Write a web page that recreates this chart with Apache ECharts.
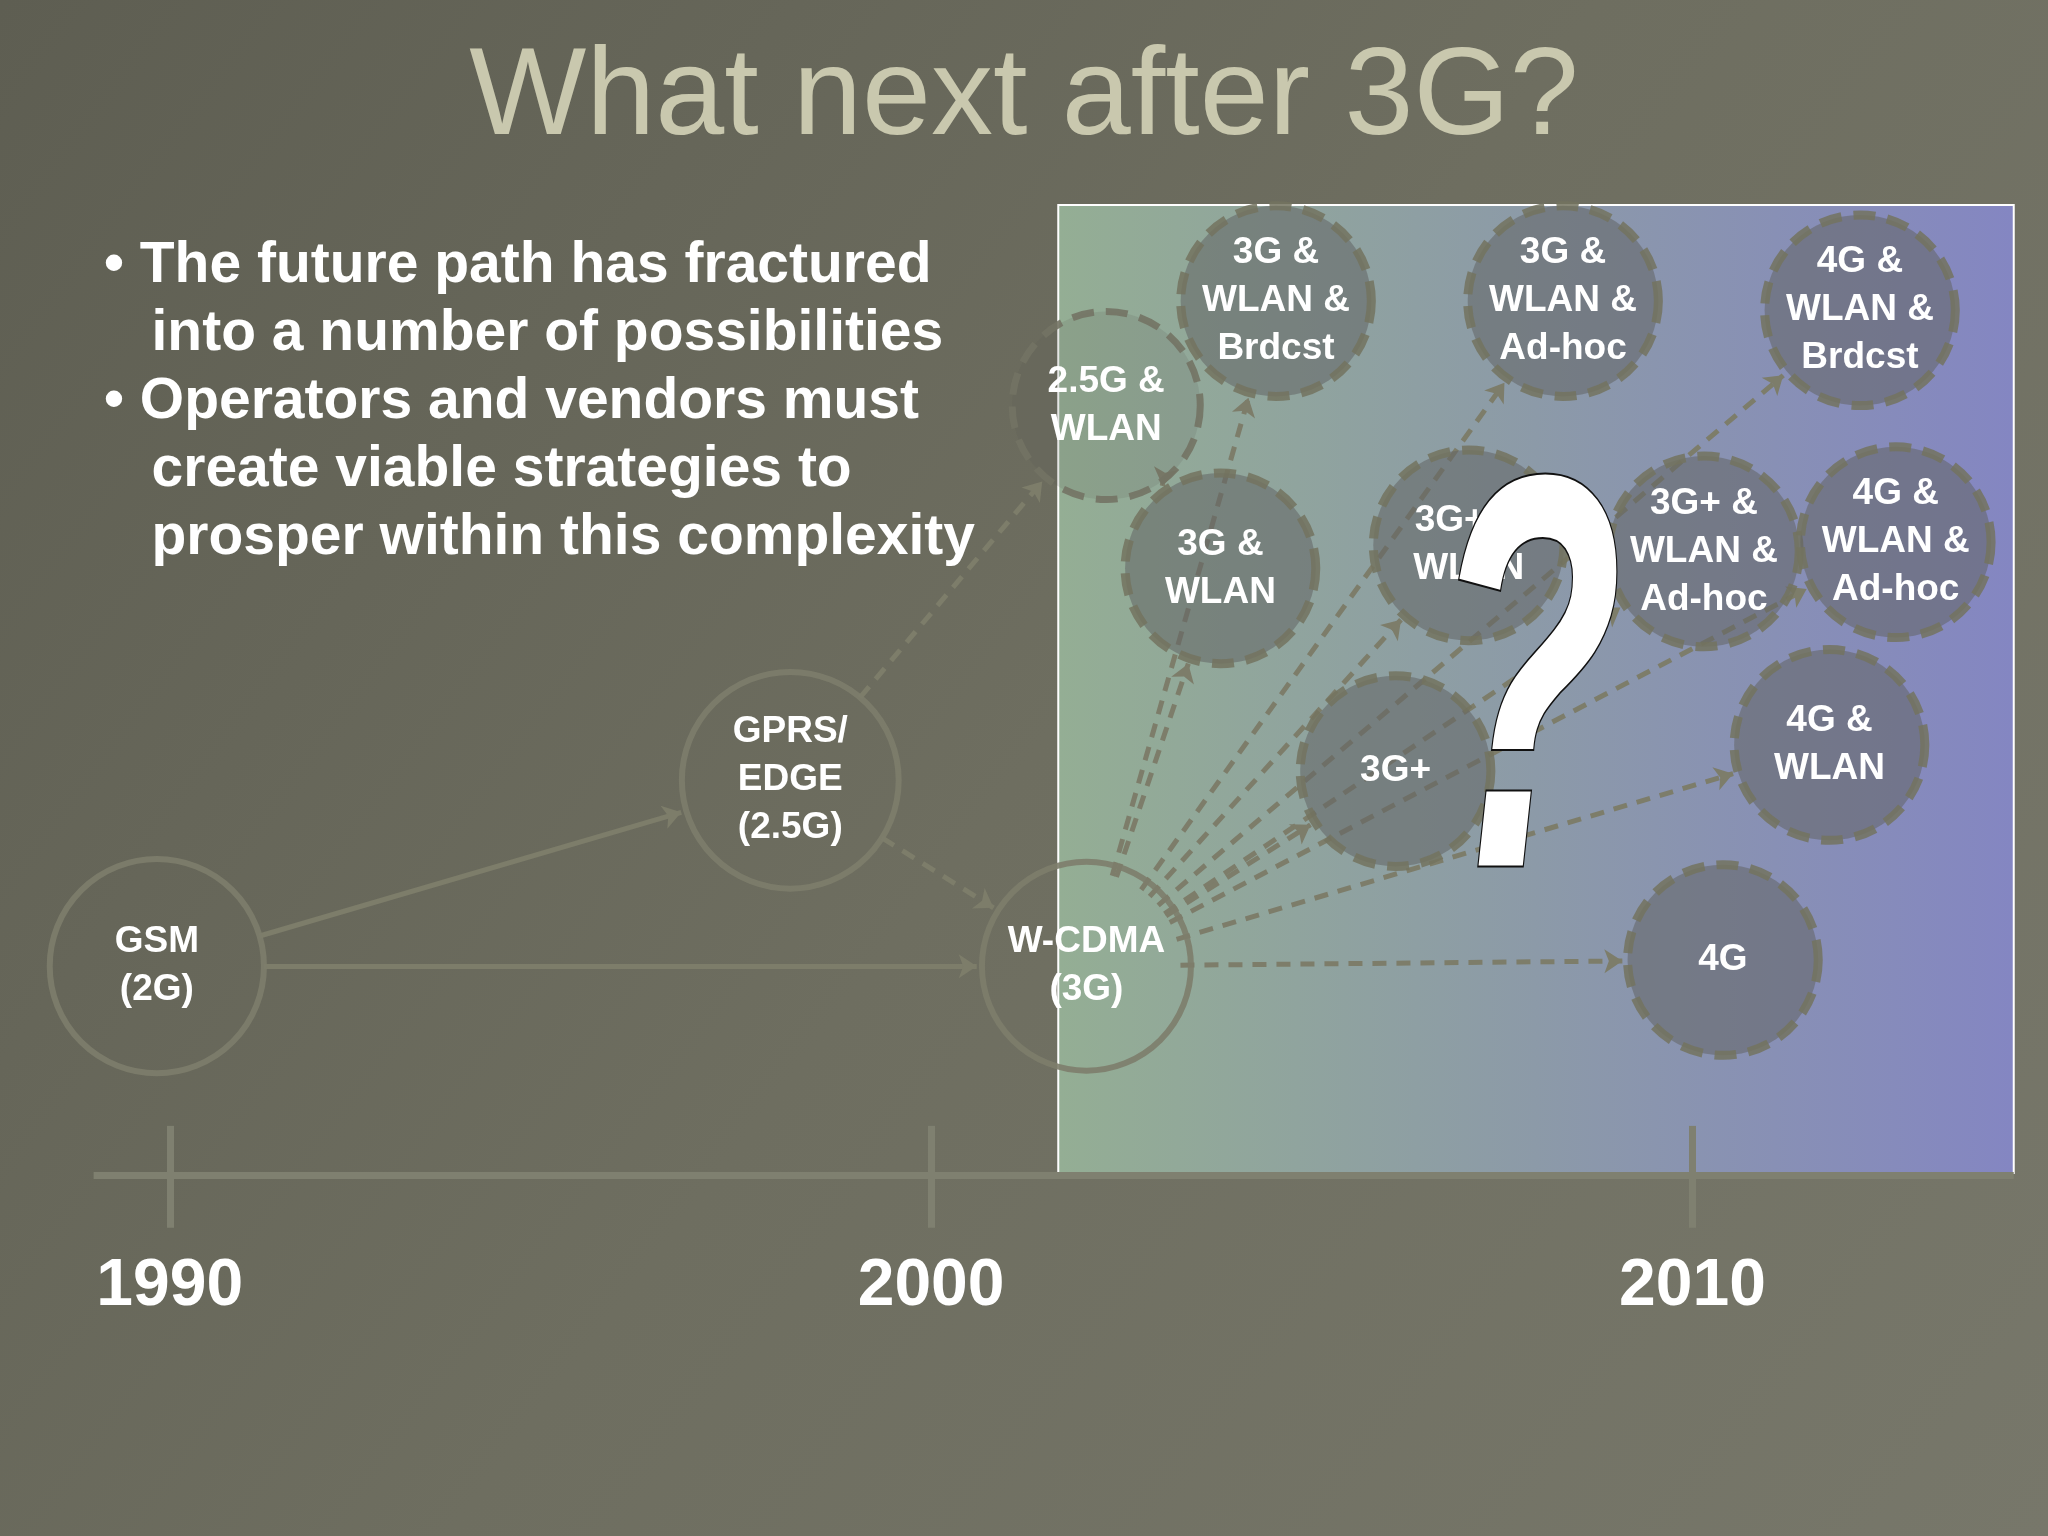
<!DOCTYPE html>
<html><head><meta charset="utf-8">
<script src="https://cdn.jsdelivr.net/npm/echarts@6/dist/echarts.min.js"></script>
<style>html,body{margin:0;padding:0;background:#66665a}#c{width:2048px;height:1536px}</style>
</head><body><div id="c"></div>
<script>
const nodeNames = ['GSM\n(2G)','GPRS/\nEDGE\n(2.5G)','W-CDMA\n(3G)','2.5G &\nWLAN','3G &\nWLAN &\nBrdcst','3G &\nWLAN &\nAd-hoc','4G &\nWLAN &\nBrdcst','3G &\nWLAN','3G+ &\nWLAN','3G+ &\nWLAN &\nAd-hoc','4G &\nWLAN &\nAd-hoc','3G+','4G &\nWLAN','4G'];
const nodeYears = [1989.83,1998.15,2002.04,2002.3,2004.53,2008.3,2012.2,2003.8,2007.06,2010.15,2012.67,2006.1,2011.8,2010.4];
const nodeLevels = [37.1,49.2,37.1,73.6,80.4,80.4,79.8,63.0,64.5,64.1,64.7,49.8,51.5,37.5];
const nodeRadius = [82,83,80,72,73,73,73,73,73,73,73,73,73,73];
const nodeKind = ['solid','solid','solid','open','dash','dash','dash','dash','dash','dash','dash','dash','dash','dash'];
const arrowFrom = [0,0,1,1,3,2,2,2,2,2,2,2,2,2,2];
const arrowTo   = [1,2,2,3,7,13,12,10,9,6,5,4,7,11,8];
const arrowDash = [0,0,1,1,1,1,1,1,1,1,1,1,1,1,1];
const arrowCurve= [0,0,0,0,0.5,0,0,0,0,0,0,0,0,0,0];
const yearTicks = [1990,2000,2010];
const bullets = ['• The future path has fractured','   into a number of possibilities','• Operators and vendors must','   create viable strategies to','   prosper within this complexity'];

const S = 2048/1568;
const X0 = 1987.77, X1 = 2014.67;
const pxPerYear = 1568/(X1-X0), pxPerLevel = 1176/100;

function shorten(a,b,ra,rb){
  const dx=(nodeYears[b]-nodeYears[a])*pxPerYear, dy=(nodeLevels[b]-nodeLevels[a])*pxPerLevel;
  const d=Math.hypot(dx,dy);
  const s=ra/d, e=(d-rb)/d;
  return [[nodeYears[a]+s*dx/pxPerYear, nodeLevels[a]+s*dy/pxPerLevel],[nodeYears[a]+e*dx/pxPerYear, nodeLevels[a]+e*dy/pxPerLevel]];
}
const lineData = arrowFrom.map((f,i)=>{
  const t=arrowTo[i];
  const c=shorten(f,t,f===2?nodeRadius[f]*0.9:nodeRadius[f],nodeRadius[t]+4);
  return {coords:c, lineStyle:{type:arrowDash[i]?[14,10]:'solid', curveness:arrowCurve[i]}};
});

const nodeData = nodeNames.map((n,i)=>{
  const k=nodeKind[i];
  return {value:[nodeYears[i],nodeLevels[i]], name:n, symbolSize:nodeRadius[i]*2*S,
    itemStyle: k==='solid'?{opacity:1,color:'rgba(0,0,0,0)',borderColor:'rgba(125,125,108,0.9)',borderWidth:6}:
      k==='open'?{opacity:1,color:'rgba(90,90,80,0.15)',borderColor:'rgba(115,115,100,0.9)',borderWidth:7,borderType:[22,12]}:
      {opacity:1,color:'rgba(98,100,100,0.55)',borderColor:'rgba(115,115,95,0.85)',borderWidth:9,borderType:[22,12]}};
});

const chart = echarts.init(document.getElementById('c'));
const graphics = [
  {type:'text',left:'center',top:38,z:10,style:{text:'What next after 3G?',font:'124px "Liberation Sans", Arial',fill:'#c9c8ae',shadowColor:'rgba(0,0,0,0.9)',shadowOffsetX:6,shadowOffsetY:6,shadowBlur:2}},
];
bullets.forEach((b,i)=>graphics.push({type:'text',left:104,top:238+i*68,z:10,style:{text:b,font:'bold 57px "Liberation Sans", Arial',fill:'#ffffff'}}));
graphics.push({type:'text',x:1527,y:711,scaleX:0.56,scaleY:1,z:20,style:{text:'?',font:'italic bold 560px "Liberation Sans", Arial',fill:'#ffffff',stroke:'#111',lineWidth:4,align:'center',verticalAlign:'middle'}});

chart.setOption({
  backgroundColor:{type:'linear',x:0,y:0,x2:1,y2:1,colorStops:[{offset:0,color:'#5e5e52'},{offset:0.5,color:'#6e6e60'},{offset:1,color:'#77776a'}]},
  animation:false,
  grid:{left:0,right:0,top:0,bottom:0},
  xAxis:{type:'value',min:X0,max:X1,show:false},
  yAxis:{type:'value',min:0,max:100,show:false},
  graphic:graphics,
  series:[
    {type:'scatter',symbolSize:0,data:[],z:1,
     markArea:{silent:true,itemStyle:{opacity:1,color:{type:'linear',x:0,y:0,x2:1,y2:0,colorStops:[{offset:0,color:'#94ae94'},{offset:0.5,color:'#8c9aa8'},{offset:1,color:'#8486c2'}]},borderColor:'#ffffff',borderWidth:2},
       data:[[{coord:[2001.67,100-157/11.76]},{coord:[2014.22,100-898/11.76]}]]},
     markLine:{silent:true,symbol:'none',lineStyle:{color:'#7f8070',width:7,type:'solid'},label:{show:false},
       data:[[{coord:[1989.0,100-900/11.76]},{coord:[2014.22,100-900/11.76]}]].concat(
         yearTicks.map(y=>[{coord:[y,100-862/11.76]},{coord:[y,100-940/11.76]}]))}},
    {type:'scatter',symbolSize:0,itemStyle:{opacity:1},data:yearTicks.map(y=>[y,100-985/11.76]),
     label:{show:true,position:'inside',formatter:p=>String(p.value[0]),color:'#fff',fontWeight:'bold',fontSize:66,fontFamily:'Liberation Sans, Arial'}},
    {type:'lines',coordinateSystem:'cartesian2d',z:3,symbol:['none','arrow'],symbolSize:18,
     lineStyle:{color:'#7d7d6a',width:5,opacity:1},data:lineData},
    {type:'scatter',z:4,data:nodeData,
     label:{show:true,position:'inside',formatter:p=>p.name,color:'#fff',fontWeight:'bold',fontSize:37,lineHeight:48,fontFamily:'Liberation Sans, Arial'}}
  ]
});
</script></body></html>
